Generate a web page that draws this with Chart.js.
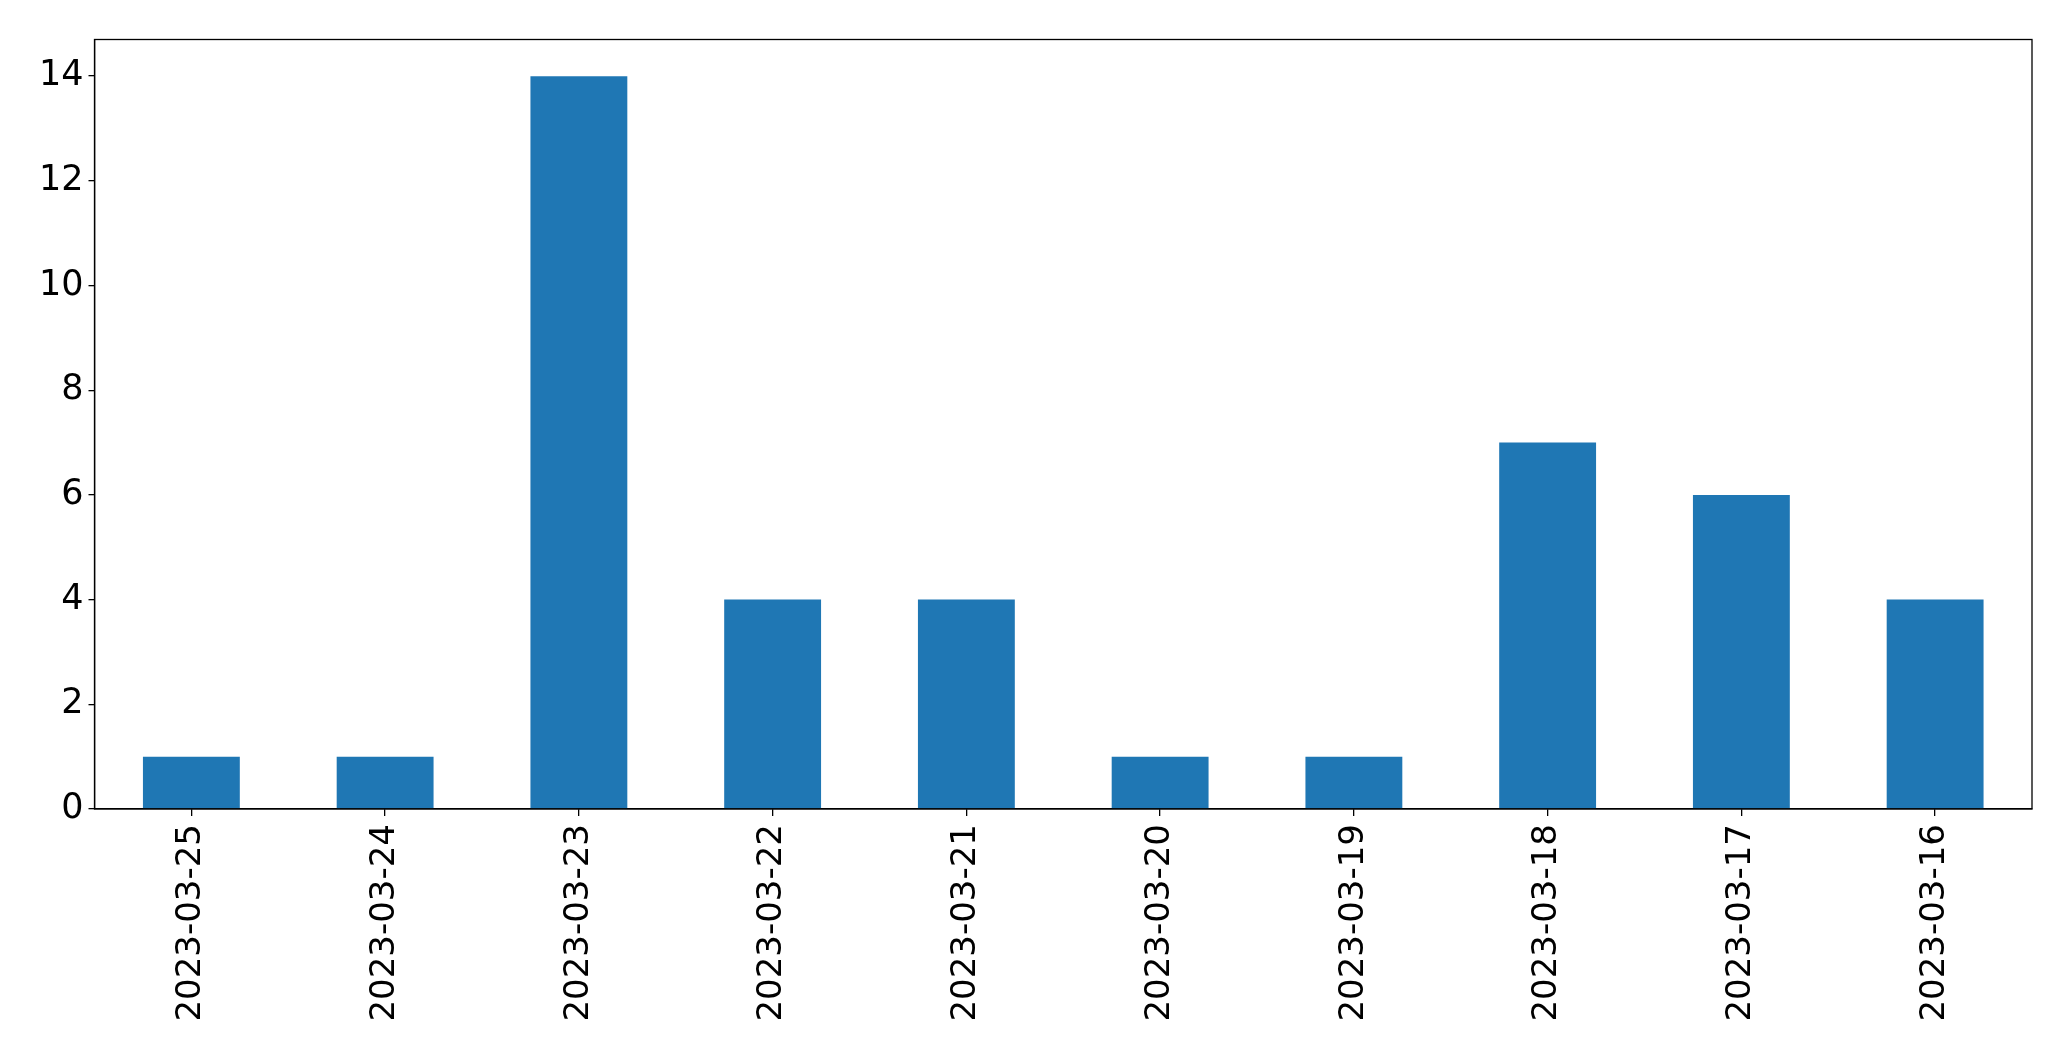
<!DOCTYPE html>
<html>
<head>
<meta charset="utf-8">
<script src="https://cdn.jsdelivr.net/npm/chart.js@4/dist/chart.umd.min.js"></script>
<style>
  html, body { margin: 0; padding: 0; background: #fff; }
  #wrap { width: 2071px; height: 1061px; }
</style>
</head>
<body>
<div id="wrap"><canvas id="chart-area" width="2071" height="1061"></canvas></div>
<script>
var dates = [
    '2023-03-25', '2023-03-24', '2023-03-23', '2023-03-22', '2023-03-21',
    '2023-03-20', '2023-03-19', '2023-03-18', '2023-03-17', '2023-03-16'
];
var counts = [1, 1, 14, 4, 4, 1, 1, 7, 6, 4];
var yTicks = [0, 2, 4, 6, 8, 10, 12, 14];
var yMax = 14.7;

// box round the plot area, like the matplotlib frame
var frame = {
    id: 'frame',
    afterDraw: function(chart) {
        var a = chart.chartArea, ctx = chart.ctx;
        ctx.save();
        ctx.strokeStyle = '#000';
        ctx.lineWidth = 1.3;
        ctx.strokeRect(a.left, a.top, a.right - a.left, a.bottom - a.top);
        ctx.restore();
    }
};

var config = {
    type: 'bar',
    data: {
        labels: dates,
        datasets: [{
            data: counts,
            backgroundColor: '#1f77b4',
            borderWidth: 0,
            barPercentage: 0.5,
            categoryPercentage: 1.0
        }]
    },
    options: {
        responsive: false,
        animation: false,
        layout: { padding: { top: 39.5, right: 39, left: 0, bottom: 0 } },
        plugins: {
            legend: { display: false },
            tooltip: { enabled: false }
        },
        scales: {
            x: {
                offset: true,
                grid: { offset: false, drawOnChartArea: false, drawTicks: true, tickLength: 7, color: '#000', lineWidth: 1.3 },
                border: { display: true, color: '#000', width: 1.3 },
                ticks: {
                    color: '#000',
                    font: { family: 'DejaVu Sans', size: 34 },
                    minRotation: 90,
                    maxRotation: 90,
                    autoSkip: false,
                    padding: 8
                },
                afterFit: function(s) { s.height = 252; }
            },
            y: {
                min: 0,
                max: yMax,
                grid: { drawOnChartArea: false, drawTicks: true, tickLength: 6, color: '#000', lineWidth: 1.3 },
                border: { display: true, color: '#000', width: 1.3 },
                ticks: {
                    color: '#000',
                    font: { family: 'DejaVu Sans', size: 35 },
                    padding: 5
                },
                afterBuildTicks: function(s) {
                    s.ticks = yTicks.map(function(v) { return { value: v }; });
                },
                afterFit: function(s) { s.width = 94.5; }
            }
        }
    },
    plugins: [frame]
};

window.onload = function() {
    var ctx = document.getElementById('chart-area').getContext('2d');
    window.myBar = new Chart(ctx, config);
};
</script>
</body>
</html>
